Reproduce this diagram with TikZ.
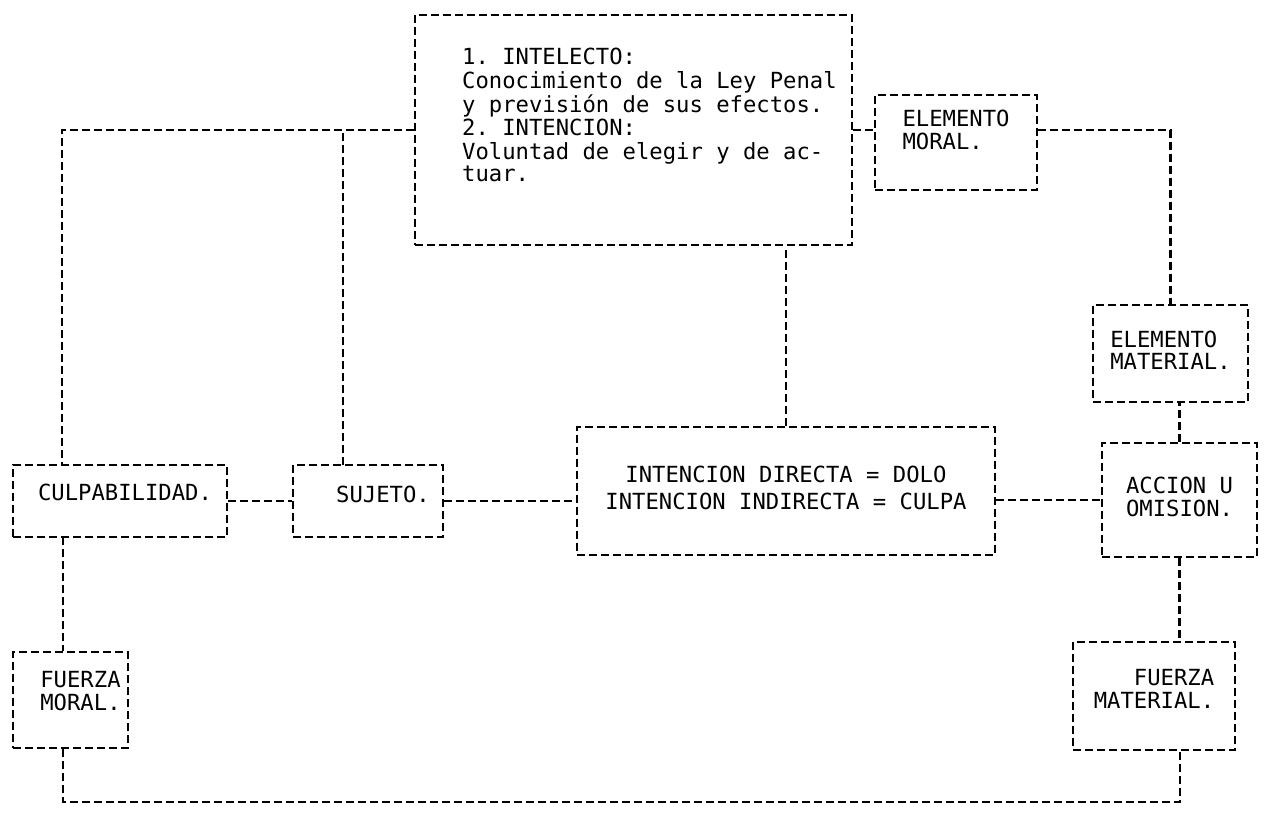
\documentclass[tikz,border=0pt]{standalone}
\usepackage{fontspec}
\setmonofont{DejaVu Sans Mono}
% texto con relleno a la izquierda (#1) y abajo (#2)
\newcommand{\bloque}[4]{\hspace*{#1}\raisebox{0pt}[\height][\dimexpr\depth+#2\relax]{\begin{tabular}{@{}#3@{}}#4\end{tabular}}}

\begin{document}
\begin{tikzpicture}[x=0.025cm,y=-0.025cm,line width=1.5pt,
  caja/.style={draw,dash pattern=on 0.2cm off 0.1cm,inner sep=0pt,
    font=\ttfamily\fontsize{15.8}{15.6}\selectfont},
  enlace/.style={dash pattern=on 0.2cm off 0.1cm}]
  \useasboundingbox (0,0) rectangle (1269,816);
  % cuadro superior
  \node[caja,minimum width=10.925cm,minimum height=5.75cm] (intel) at (633.5,130)
    {\bloque{0.8cm}{0.6cm}{l}{1. INTELECTO:\\Conocimiento de la Ley Penal\\y previsión de sus efectos.\\2. INTENCION:\\Voluntad de elegir y de ac-\\tuar.}};
  \node[caja,minimum width=4.05cm,minimum height=2.375cm] (moral) at (956,142.5) {\bloque{0cm}{0.45cm}{l}{ELEMENTO\\MORAL.}};
  % lado derecho
  \node[caja,minimum width=3.875cm,minimum height=2.425cm] (material) at (1170.5,353.5) {\bloque{0cm}{0cm}{l}{ELEMENTO\\MATERIAL.}};
  \node[caja,minimum width=3.875cm,minimum height=2.85cm] (accion) at (1179.5,500) {\bloque{0cm}{0cm}{l}{ACCION U\\OMISION.}};
  \node[caja,minimum width=4.05cm,minimum height=2.7cm] (fmaterial) at (1154,696) {\bloque{0cm}{0.2cm}{r}{FUERZA\\MATERIAL.}};
  % fila central
  \node[caja,minimum width=10.45cm,minimum height=3.2cm] (intencion) at (786,491)
    {\bloque{0cm}{0cm}{c}{INTENCION DIRECTA = DOLO\\[0.12cm]INTENCION INDIRECTA = CULPA}};
  \node[caja,minimum width=3.75cm,minimum height=1.8cm] (sujeto) at (368,501) {\bloque{0.75cm}{0.15cm}{l}{SUJETO.}};
  \node[caja,minimum width=5.35cm,minimum height=1.8cm] (culp) at (120,501) {\bloque{0.25cm}{0.25cm}{l}{CULPABILIDAD.}};
  \node[caja,minimum width=2.875cm,minimum height=2.4cm] (fmoral) at (70.5,700) {\bloque{0.5cm}{0.3cm}{l}{FUERZA\\MORAL.}};
  % puntos de union
  \coordinate (culpT) at (62,465);
  \coordinate (culpB) at (63,537);
  \coordinate (sujT) at (343,465);
  \coordinate (abajo) at (1180,802);
  % enlaces
  \draw[enlace] (intel.west) -| (culpT);
  \draw[enlace] (sujT) -- (sujT |- intel.west);
  \draw[enlace] (culp.east) -- (sujeto.west);
  \draw[enlace] (sujeto.east) -- (sujeto.east -| intencion.west);
  \draw[enlace] (intencion.east |- accion.west) -- (accion.west);
  \draw[enlace] (intencion.north) -- (intencion.north |- intel.south);
  \draw[enlace] (intel.east) -- (intel.east -| moral.west);
  \draw[enlace] (moral.east |- intel.east) -| (material.north);
  \draw[enlace] (accion.north) -- (accion.north |- material.south);
  \draw[enlace] (accion.south) -- (accion.south |- fmaterial.north);
  \draw[enlace] (culpB) -- (culpB |- fmoral.north);
  \draw[enlace] (culpB |- fmoral.south) |- (abajo) -- (abajo |- fmaterial.south);
\end{tikzpicture}
\end{document}
